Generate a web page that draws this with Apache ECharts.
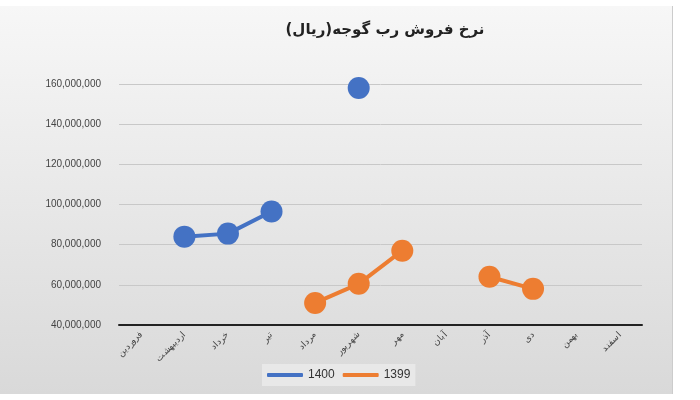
<!DOCTYPE html><html><head><meta charset="utf-8"><script src="https://cdn.jsdelivr.net/npm/echarts@6/dist/echarts.min.js"></script>
<style>body{margin:0;background:#fff}#c{position:absolute;left:0;top:6px;width:672px;height:388px;border-right:1px solid #ccc;background:linear-gradient(#f7f7f7,#d9d9d9)}</style></head><body><div id="c"></div><script>
const categories=['فروردین','اردیبهشت','خرداد','تیر','مرداد','شهریور','مهر','آبان','آذر','دی','بهمن','اسفند'];
const s1400=[null,84000000,85500000,96500000,null,158000000,null,null,null,null,null,null];
const s1399=[null,null,null,null,51000000,60500000,77000000,null,64000000,58000000,null,null];
const c=echarts.init(document.getElementById('c'));
const ser=(n,d,col)=>({name:n,type:'line',data:d,symbol:'circle',symbolSize:22,connectNulls:false,itemStyle:{color:col},lineStyle:{width:4,color:col}});
c.setOption({
title:{text:'نرخ فروش رب گوجه(ریال)',left:380,textAlign:'center',top:12,textStyle:{fontSize:15,fontWeight:'bold',color:'#222',fontFamily:'DejaVu Sans'}},
legend:{left:262,bottom:8,itemWidth:36,itemHeight:4,backgroundColor:'#e8e8e8',textStyle:{fontSize:12,color:'#333'},data:['1400','1399'],icon:'roundRect'},
grid:{left:119,right:30,top:78,bottom:69},
xAxis:{type:'category',data:categories,axisLine:{lineStyle:{color:'#222',width:2}},axisTick:{show:false},axisLabel:{rotate:45,fontSize:9,color:'#444',interval:0}},
yAxis:{type:'value',min:40000000,max:160000000,interval:20000000,axisLine:{show:false},splitLine:{lineStyle:{color:'#c8c8c8'}},axisLabel:{fontSize:10,color:'#444',margin:18,formatter:v=>v.toLocaleString('en-US')}},
series:[ser('1400',s1400,'#4472c4'),ser('1399',s1399,'#ed7d31')]
});
</script></body></html>
